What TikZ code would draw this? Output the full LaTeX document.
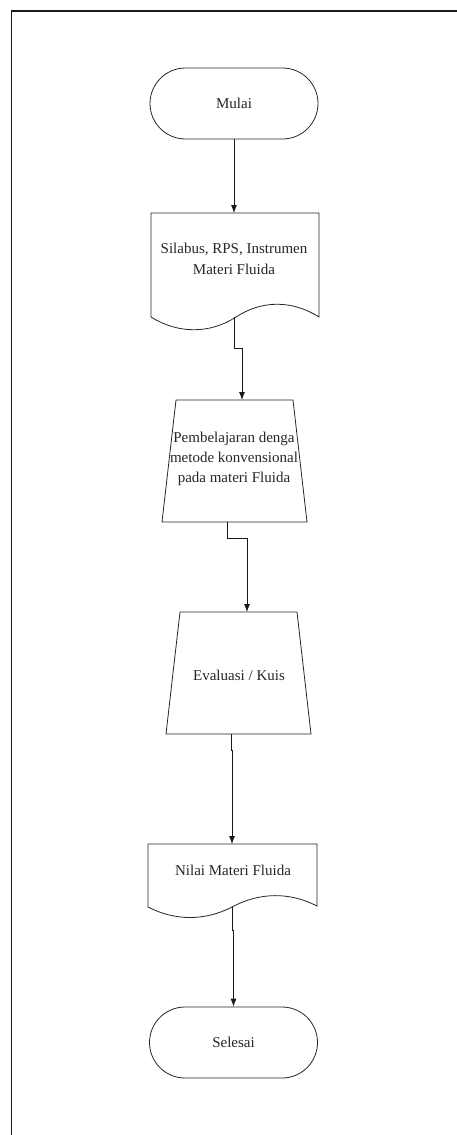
\documentclass[tikz,border=0pt]{standalone}
\usepackage{fontspec}
\setmainfont{Liberation Serif}
\usetikzlibrary{arrows.meta,shapes.misc}
\begin{document}
\begin{tikzpicture}[x=1pt,y=-1pt,
  shapeline/.style={draw=black!85,line width=0.8pt},
  label/.style={font=\fontsize{15}{21}\selectfont,text=black!85,align=center,inner sep=0pt},
  terminal/.style={shapeline,rounded rectangle,minimum width=168pt,minimum height=71pt,inner sep=0pt,
    font=\fontsize{15}{21}\selectfont,text=black!85},
  conn/.style={draw=black!90,line width=0.8pt,-{Latex[length=8pt,width=6pt]}},
  frameline/.style={draw=black!90,line width=1.2pt}]
\useasboundingbox (0,0) rectangle (457,1135);
% frame
\draw[frameline] (457,11) -- (11.5,11) -- (11.5,1135);
% start
\node[terminal] (mulai) at (234,103.5) {Mulai};
% document 1
\draw[shapeline] (151,213) -- (319,213) -- (319,317)
  .. controls (292,300) and (262,300) .. (236,317)
  .. controls (210,334) and (178,334) .. (151,317) -- cycle;
\coordinate (doc1top) at (234,213);
\coordinate (doc1bot) at (234,317);
\node[label] (doc1) at (234,259) {Silabus, RPS, Instrumen\\Materi Fluida};
% trapezoid 1
\draw[shapeline] (176,400) -- (293,400) -- (307,522) -- (162,522) -- cycle;
\coordinate (trap1top) at (242,400);
\coordinate (trap1bot) at (227,522);
\node[label,font=\fontsize{15}{20}\selectfont] (trap1) at (234,459) {Pembelajaran denga\\metode konvensional\\pada materi Fluida};
% trapezoid 2
\draw[shapeline] (180,612) -- (297,612) -- (311,734) -- (166,734) -- cycle;
\coordinate (trap2top) at (247,612);
\coordinate (trap2bot) at (231,734);
\node[label] (trap2) at (239,675) {Evaluasi / Kuis};
% document 2
\draw[shapeline] (148,844) -- (317,844) -- (317,906)
  .. controls (290,892) and (260,892) .. (232,907)
  .. controls (205,921) and (175,921) .. (148,907) -- cycle;
\coordinate (doc2top) at (232,844);
\coordinate (doc2bot) at (232,907);
\node[label] (doc2) at (233,870) {Nilai Materi Fluida};
% end
\node[terminal] (selesai) at (233.5,1042.5) {Selesai};
% connectors
\draw[conn] (mulai.south) -- (doc1top);
\draw[conn] (doc1bot) -- (234,348) -- (242,348) -- (trap1top);
\draw[conn] (trap1bot) -- (227,538) -- (247,538) -- (trap2top);
\draw[conn] (trap2bot) -- (231,750) -- (232,750) -- (doc2top);
\draw[conn] (doc2bot) -- (232,930) -- (233.5,930) -- (selesai.north);
\end{tikzpicture}
\end{document}
